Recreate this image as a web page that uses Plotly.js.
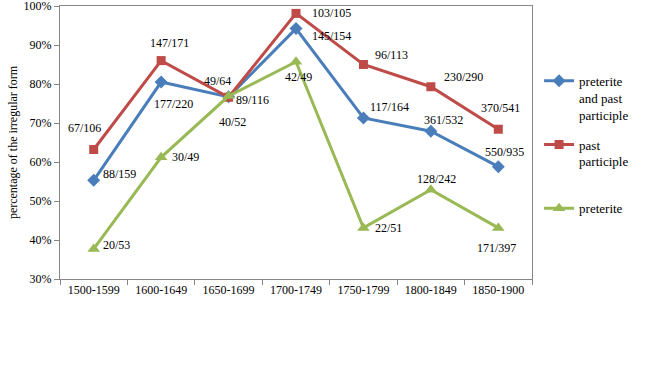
<!DOCTYPE html>
<html>
<head>
<meta charset="utf-8">
<script src="https://cdn.plot.ly/plotly-3.0.1.min.js"></script>
<style>html,body{margin:0;padding:0;background:#fff;}#chart{width:652px;height:369px;}</style>
</head>
<body>
<div id="chart"></div>
<script>
// ---- data ----
const periods = ["1500-1599","1600-1649","1650-1699","1700-1749","1750-1799","1800-1849","1850-1900"];

const seriesNames = ["preterite<br>and past<br>participle", "past<br>participle<br>&nbsp;", "preterite<br>&nbsp;<br>&nbsp;"];

const preteriteAndPastParticiple = [0.553, 0.805, 0.767, 0.942, 0.713, 0.679, 0.588];
const pastParticiple            = [0.632, 0.860, 0.766, 0.981, 0.850, 0.793, 0.684];
const preterite                 = [0.377, 0.612, 0.769, 0.857, 0.431, 0.529, 0.431];

const yTickVals = [0.3, 0.4, 0.5, 0.6, 0.7, 0.8, 0.9, 1.0];
const yTickText = ["30%","40%","50%","60%","70%","80%","90%","100%"];

const labelsBoth = ["88/159","177/220","89/116","145/154","117/164","361/532","550/935"];
const labelsPast = ["67/106","147/171","49/64","103/105","96/113","230/290","370/541"];
const labelsPret = ["20/53","30/49","40/52","42/49","22/51","128/242","171/397"];

// ---- label offsets (px, styling only) ----
const offBoth = [[26,6],[12,-22],[24,-3],[35,-7],[26,11],[13,11],[6,15]];
const offPast = [[-9,22],[8,18],[-11,16],[35,0],[28,10],[33,10],[2,21]];
const offPret = [[23,4],[24,0],[4,-26],[2,-15],[25,0],[6,11],[-2,-20]];

const colors = ["#4A7EBB", "#BE4B48", "#98B954"];
const font = "Liberation Serif";

const traces = [
  {x: periods, y: preteriteAndPastParticiple, name: seriesNames[0], legendgroup: "a",
   mode: "lines+markers", line: {color: colors[0], width: 3},
   marker: {symbol: "diamond", size: 10, color: colors[0]}},
  {x: periods, y: pastParticiple, name: seriesNames[1], legendgroup: "b",
   mode: "lines+markers", line: {color: colors[1], width: 3},
   marker: {symbol: "square", size: 9, color: colors[1]}},
  {x: periods, y: preterite, name: seriesNames[2], legendgroup: "c",
   mode: "lines+markers", line: {color: colors[2], width: 3},
   marker: {symbol: "triangle-up", size: 11, color: colors[2]}}
];

const annotations = [];
function addLabels(vals, labels, offs) {
  vals.forEach((v, i) => {
    annotations.push({x: periods[i], y: v, xref: "x", yref: "y", text: labels[i],
      showarrow: false, xshift: offs[i][0], yshift: offs[i][1],
      font: {family: font, size: 12, color: "#000"}});
  });
}
addLabels(preteriteAndPastParticiple, labelsBoth, offBoth);
addLabels(pastParticiple, labelsPast, offPast);
addLabels(preterite, labelsPret, offPret);

const layout = {
  width: 652, height: 369,
  margin: {l: 60, r: 120, t: 6, b: 90},
  paper_bgcolor: "#fff", plot_bgcolor: "#fff",
  font: {family: font, size: 12, color: "#000"},
  showlegend: true,
  legend: {x: 1.015, y: 0.781, xanchor: "left", yanchor: "top",
    font: {family: font, size: 13, color: "#000"},
    valign: "top", tracegroupgap: 10, itemwidth: 30, bgcolor: "rgba(0,0,0,0)"},
  xaxis: {type: "category", range: [-0.5, 6.5], showgrid: false, zeroline: false,
    showline: true, linecolor: "#868686", linewidth: 1, mirror: true,
    ticks: "outside", ticklen: 5, tickcolor: "#868686", tickson: "boundaries",
    tickfont: {family: font, size: 12, color: "#000"}},
  yaxis: {range: [0.3, 1.0], tickmode: "array", tickvals: yTickVals, ticktext: yTickText,
    ticklabeloverflow: "allow",
    showgrid: false, zeroline: false,
    showline: true, linecolor: "#868686", linewidth: 1, mirror: true,
    ticks: "outside", ticklen: 5, tickcolor: "#868686",
    tickfont: {family: font, size: 12, color: "#000"},
    title: {text: "percentage of the irregular form", font: {family: font, size: 12, color: "#000"}, standoff: 3}},
  annotations: annotations
};

Plotly.newPlot("chart", traces, layout, {displayModeBar: false, staticPlot: true});
</script>
</body>
</html>
